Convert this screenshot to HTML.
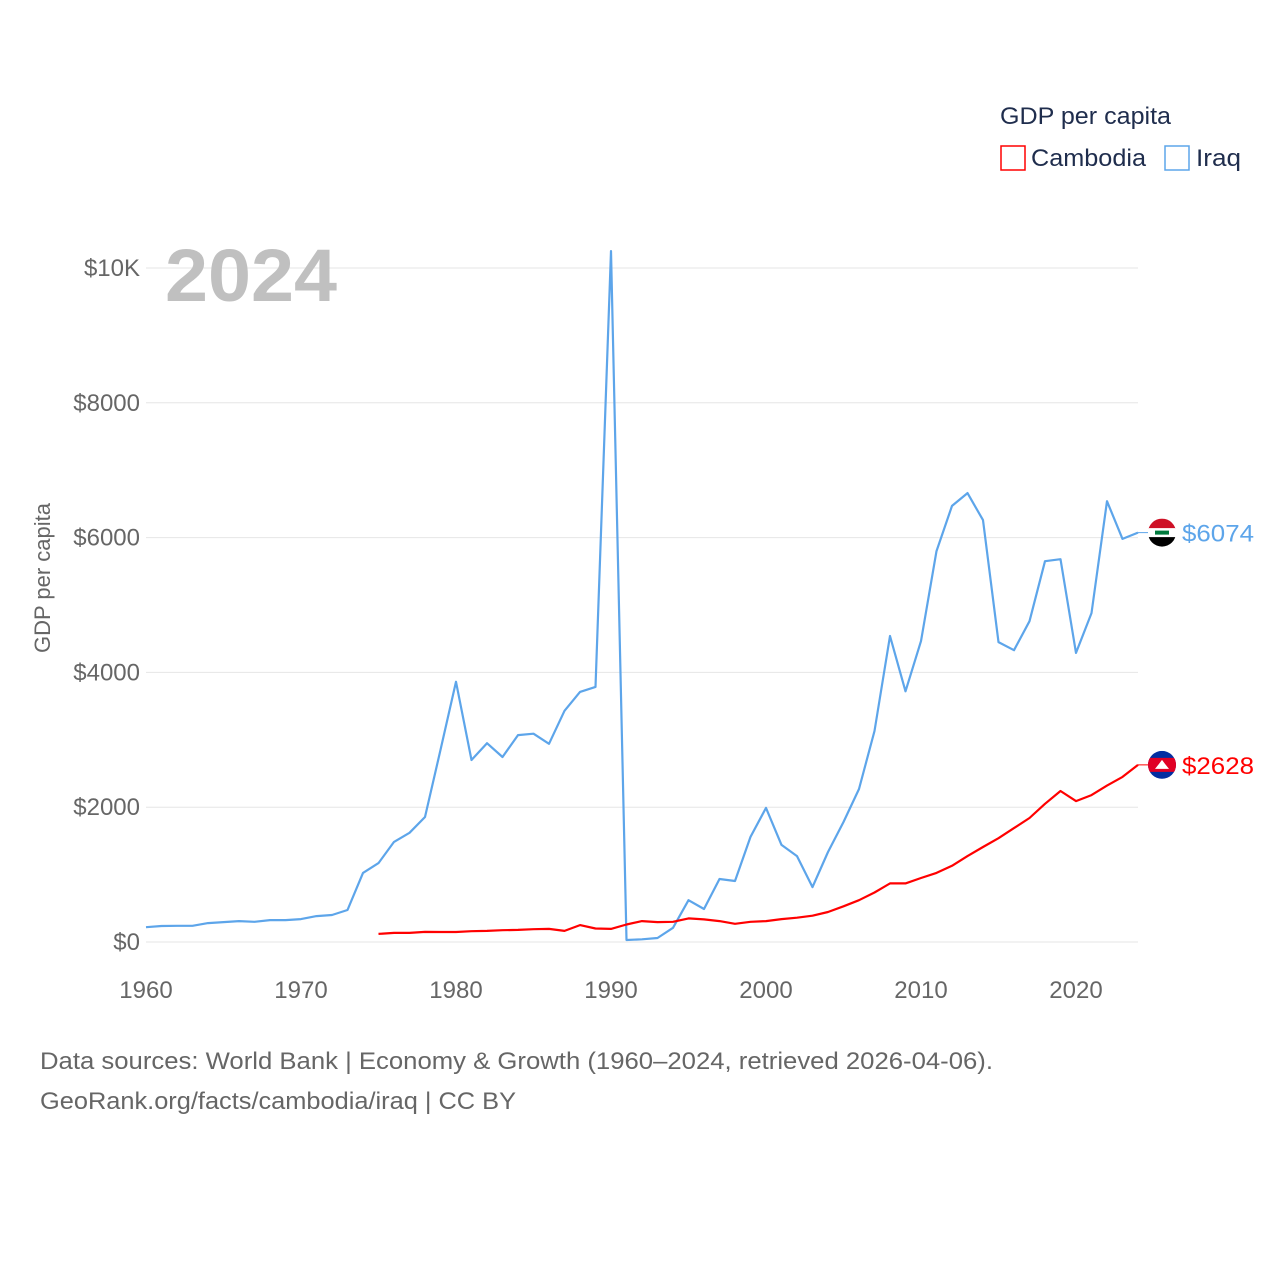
<!DOCTYPE html>
<html><head><meta charset="utf-8">
<style>
body{margin:0;background:#fff;width:1280px;height:1280px;overflow:hidden;font-family:"Liberation Sans",sans-serif;}
svg text{font-family:"Liberation Sans",sans-serif;}
</style></head>
<body>
<svg id="chart" width="1280" height="1280" viewBox="0 0 1280 1280" xmlns="http://www.w3.org/2000/svg">
<g id="grid"></g>
<g id="yticks"></g>
<g id="xticks"></g>
<text x="165" y="301" font-size="74" font-weight="bold" fill="#c0c0c0" textLength="172" lengthAdjust="spacingAndGlyphs">2024</text>
<text transform="translate(50,578) rotate(-90)" text-anchor="middle" font-size="22" fill="#666">GDP per capita</text>
<g id="series"></g>
<g>
<text x="1000" y="124" font-size="24" fill="#1f2d4d" textLength="171" lengthAdjust="spacingAndGlyphs">GDP per capita</text>
<g><rect x="1001" y="146" width="24" height="24" fill="none" stroke="#f00" stroke-width="1.5"/><text x="1031" y="166" font-size="24" fill="#1f2d4d" textLength="115" lengthAdjust="spacingAndGlyphs">Cambodia</text></g>
<g><rect x="1165" y="146" width="24" height="24" fill="none" stroke="#5da5ea" stroke-width="1.5"/><text x="1196" y="166" font-size="24" fill="#1f2d4d" textLength="45" lengthAdjust="spacingAndGlyphs">Iraq</text></g>
</g>
<text x="40" y="1069" font-size="24" fill="#666" textLength="953" lengthAdjust="spacingAndGlyphs">Data sources: World Bank | Economy &amp; Growth (1960–2024, retrieved 2026-04-06).</text>
<text x="40" y="1109" font-size="24" fill="#666" textLength="476" lengthAdjust="spacingAndGlyphs">GeoRank.org/facts/cambodia/iraq | CC BY</text>
</svg>
<script>
const iraqYears = [];
for (let y = 1960; y <= 2024; y++) iraqYears.push(y);
const iraqValues = [220,237,240,240,280,295,310,300,325,325,340,385,400,475,1025,1170,1485,1620,1855,2850,3860,2700,2950,2745,3070,3090,2940,3430,3710,3785,10250,30,40,60,210,620,490,935,905,1560,1990,1440,1275,815,1335,1780,2270,3130,4540,3720,4465,5800,6470,6660,6260,4450,4330,4760,5650,5680,4290,4880,6540,5980,6074];
const cambodiaYears = [];
for (let y = 1975; y <= 2024; y++) cambodiaYears.push(y);
const cambodiaValues = [120,135,135,150,148,148,160,165,175,180,190,195,165,250,200,195,260,310,295,300,350,335,310,270,300,310,340,360,390,445,530,620,735,870,870,950,1025,1130,1275,1410,1540,1690,1840,2050,2240,2090,2180,2320,2450,2628];
const yTicks = [0,2000,4000,6000,8000,10000];
const yTickLabels = ["$0","$2000","$4000","$6000","$8000","$10K"];
const xTicks = [1960,1970,1980,1990,2000,2010,2020];

const NS = "http://www.w3.org/2000/svg";
const xs = yr => 146 + (yr - 1960) * 15.5;
const ys = v => 942 - v * 0.0674;
function mk(tag, attrs, parent, txt){
  const e = document.createElementNS(NS, tag);
  for (const k in attrs) e.setAttribute(k, attrs[k]);
  if (txt !== undefined) e.textContent = txt;
  parent.appendChild(e); return e;
}
const grid = document.getElementById('grid'), yt = document.getElementById('yticks'), xt = document.getElementById('xticks'), ser = document.getElementById('series');
yTicks.forEach((t, i) => {
  const l = mk('line', {x1:146, x2:1138, y1:ys(t), y2:ys(t), stroke:'#e6e6e6', 'stroke-width':1}, grid);
  
  
  const tx = mk('text', {x:140, y:ys(t)+8, 'text-anchor':'end', 'font-size':24, fill:'#666'}, yt, yTickLabels[i]);
  
  
});
xTicks.forEach(t => {
  const tx = mk('text', {x:xs(t), y:998, 'text-anchor':'middle', 'font-size':24, fill:'#666'}, xt, String(t));
  
  
});
function line(years, vals, color, name){
  const d = years.map((y, i) => (i ? 'L' : 'M') + xs(y).toFixed(1) + ',' + ys(vals[i]).toFixed(1)).join(' ');
  const p = mk('path', {d:d, fill:'none', stroke:color, 'stroke-width':2.2, 'stroke-linejoin':'round'}, ser);
  
  
}
line(iraqYears, iraqValues, '#5da5ea', 'iraq-line');
line(cambodiaYears, cambodiaValues, '#ff0000', 'cambodia-line');

const iv = iraqValues[iraqValues.length-1], cv = cambodiaValues[cambodiaValues.length-1];
const iy = ys(iv), cy = ys(cv);
mk('line', {x1:1138, x2:1150, y1:iy, y2:iy, stroke:'#5da5ea', 'stroke-width':1}, ser);
mk('line', {x1:1138, x2:1150, y1:cy, y2:cy, stroke:'#ff0000', 'stroke-width':1}, ser);
const fi = mk('g', {}, ser);


const cpi = mk('clipPath', {id:'ci'}, fi);
mk('circle', {cx:1162, cy:iy, r:14}, cpi);
const gi = mk('g', {'clip-path':'url(#ci)'}, fi);
mk('rect', {x:1148, y:iy-14, width:28, height:10, fill:'#ce1126'}, gi);
mk('rect', {x:1148, y:iy-4.5, width:28, height:9, fill:'#fff'}, gi);
mk('rect', {x:1148, y:iy+4.5, width:28, height:10, fill:'#000'}, gi);
mk('rect', {x:1155, y:iy-2, width:14, height:4, fill:'#007a3d'}, gi);
const til = mk('text', {x:1182, y:iy+9, 'font-size':24, fill:'#5da5ea', textLength:72, lengthAdjust:'spacingAndGlyphs'}, ser, '$' + iv);


const fc = mk('g', {}, ser);


const cp = mk('clipPath', {id:'cc'}, fc);
mk('circle', {cx:1162, cy:cy, r:14}, cp);
const gc = mk('g', {'clip-path':'url(#cc)'}, fc);
mk('rect', {x:1148, y:cy-14, width:28, height:28, fill:'#032ea1'}, gc);
mk('rect', {x:1148, y:cy-7, width:28, height:14, fill:'#e00025'}, gc);
mk('path', {d:`M1155,${cy+4} L1169,${cy+4} L1165,${cy-1} L1162,${cy-5} L1159,${cy-1} Z`, fill:'#fff'}, gc);
const tcl = mk('text', {x:1182, y:cy+9, 'font-size':24, fill:'#ff0000', textLength:72, lengthAdjust:'spacingAndGlyphs'}, ser, '$' + cv);


</script>
</body></html>
